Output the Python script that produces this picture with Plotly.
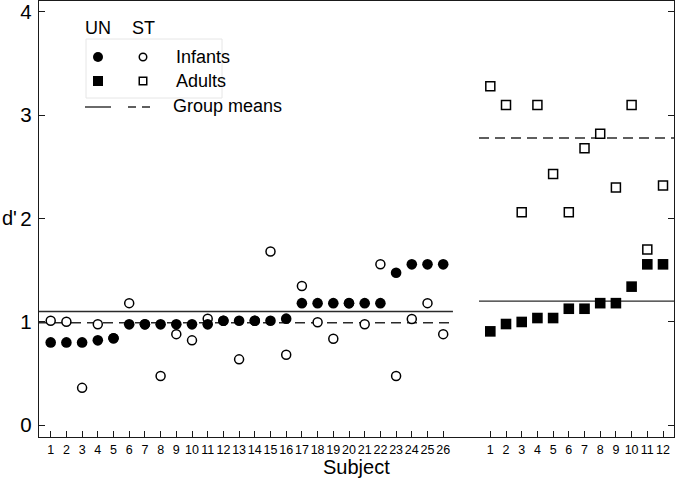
import plotly.graph_objects as go

# ---------------- data ----------------
infant_subjects = list(range(1, 27))
adult_subjects = list(range(1, 13))

infant_un = [0.80, 0.80, 0.80, 0.82, 0.84, 0.975, 0.975, 0.975, 0.975, 0.975, 0.975, 1.01, 1.01,
             1.01, 1.01, 1.03, 1.18, 1.18, 1.18, 1.18, 1.18, 1.18, 1.475, 1.556, 1.556, 1.556]
infant_st = [1.01, 1.00, 0.36, 0.975, 0.84, 1.18, 0.975, 0.475, 0.88, 0.82, 1.03, 1.01, 0.636,
             1.01, 1.68, 0.68, 1.346, 0.995, 0.836, 1.18, 0.975, 1.556, 0.475, 1.027, 1.18, 0.88]
adult_un = [0.907, 0.978, 0.998, 1.036, 1.036, 1.126, 1.126, 1.18, 1.18, 1.34, 1.556, 1.556]
adult_st = [3.28, 3.10, 2.06, 3.10, 2.43, 2.06, 2.68, 2.82, 2.30, 3.10, 1.70, 2.32]

infant_mean_un = 1.10
infant_mean_st = 0.99
adult_mean_un = 1.20
adult_mean_st = 2.78

y_ticks = [0, 1, 2, 3, 4]

# ---------------- positions on shared x axis ----------------
adult_offset = 28
infant_x = infant_subjects
adult_x = [s + adult_offset for s in adult_subjects]
x_min, x_max = 0.255, 40.7
infant_line_x = [x_min, 26.62]
adult_line_x = [28.28, x_max]

LINE = "#2a2a2a"
AXIS = "#1a1a1a"
fig = go.Figure()

# mean lines
fig.add_trace(go.Scatter(x=infant_line_x, y=[infant_mean_un] * 2, mode="lines",
                         line=dict(color=LINE, width=1.4), showlegend=False, hoverinfo="skip"))
fig.add_trace(go.Scatter(x=infant_line_x, y=[infant_mean_st] * 2, mode="lines",
                         line=dict(color=LINE, width=1.4, dash="10px,6px"), showlegend=False, hoverinfo="skip"))
fig.add_trace(go.Scatter(x=adult_line_x, y=[adult_mean_un] * 2, mode="lines",
                         line=dict(color=LINE, width=1.4), showlegend=False, hoverinfo="skip"))
fig.add_trace(go.Scatter(x=adult_line_x, y=[adult_mean_st] * 2, mode="lines",
                         line=dict(color=LINE, width=1.4, dash="10px,6px"), showlegend=False, hoverinfo="skip"))

# open markers (ST) first, filled (UN) on top
fig.add_trace(go.Scatter(x=infant_x, y=infant_st, mode="markers", name="Infants ST",
                         marker=dict(symbol="circle", size=9, color="white",
                                     line=dict(color="black", width=1.5)), showlegend=False))
fig.add_trace(go.Scatter(x=adult_x, y=adult_st, mode="markers", name="Adults ST",
                         marker=dict(symbol="square", size=9, color="white",
                                     line=dict(color="black", width=1.5)), showlegend=False))
fig.add_trace(go.Scatter(x=infant_x, y=infant_un, mode="markers", name="Infants UN",
                         marker=dict(symbol="circle", size=10.6, color="black",
                                     line=dict(color="black", width=0)), showlegend=False))
fig.add_trace(go.Scatter(x=adult_x, y=adult_un, mode="markers", name="Adults UN",
                         marker=dict(symbol="square", size=10.6, color="black",
                                     line=dict(color="black", width=0)), showlegend=False))

# ---------------- hand-made legend (overlay pixel axes) ----------------
fig.add_trace(go.Scatter(x=[98, 98], y=[57, 81], mode="markers",
                         xaxis="x2", yaxis="y2", showlegend=False, hoverinfo="skip",
                         marker=dict(symbol=["circle", "square"], size=10, color="#000000",
                                     opacity=1, line=dict(color="#000000", width=0))))
fig.add_trace(go.Scatter(x=[143, 143], y=[57, 81], mode="markers",
                         xaxis="x2", yaxis="y2", showlegend=False, hoverinfo="skip",
                         marker=dict(symbol=["circle", "square"], size=7.5, color="white",
                                     opacity=1, line=dict(color="#000000", width=1.5))))
fig.add_trace(go.Scatter(x=[85, 111], y=[107, 107], mode="lines", xaxis="x2", yaxis="y2",
                         line=dict(color=LINE, width=1.4), showlegend=False, hoverinfo="skip"))
fig.add_trace(go.Scatter(x=[128, 156], y=[107, 107], mode="lines", xaxis="x2", yaxis="y2",
                         line=dict(color=LINE, width=1.4, dash="8px,6px"), showlegend=False, hoverinfo="skip"))

FONT = "Liberation Sans, Arial, Helvetica, sans-serif"
ann = []
for txt, x, y, anchor in [("UN", 98, 28, "center"), ("ST", 143, 28, "center"),
                          ("Infants", 174, 57, "left"), ("Adults", 174, 81, "left"),
                          ("Group means", 171, 106, "left")]:
    ann.append(dict(text=txt, x=x, y=y, xref="x2", yref="y2", xanchor=anchor, yanchor="middle",
                    showarrow=False, font=dict(family=FONT, size=18, color="black")))
# axis titles (paper coords: plot area spans px 39..674 horizontally, 1..437 vertically)
ann.append(dict(text="d'", x=-39 / 635, y=(437 - 218) / 436, xref="paper", yref="paper",
                xanchor="left", yanchor="middle",
                showarrow=False, font=dict(family=FONT, size=20, color="black")))
ann.append(dict(text="Subject", x=(356 - 39) / 635, y=(437 - 467) / 436, xref="paper", yref="paper",
                xanchor="center", yanchor="middle",
                showarrow=False, font=dict(family=FONT, size=20, color="black")))

fig.update_layout(
    width=676, height=482,
    margin=dict(l=39, r=2, t=1, b=45, autoexpand=False),
    paper_bgcolor="white", plot_bgcolor="white",
    font=dict(family=FONT, color="black"),
    annotations=ann,
    shapes=[dict(type="rect", xref="x2", yref="y2", x0=86, x1=222, y0=39, y1=98,
                 line=dict(color="#e6e6e6", width=1), fillcolor="rgba(0,0,0,0)", layer="below")],
    xaxis=dict(range=[x_min, x_max], tickmode="array",
               tickvals=infant_x + adult_x,
               ticktext=[str(s) for s in infant_subjects] + [str(s) for s in adult_subjects],
               ticks="inside", ticklen=6, tickwidth=1.2, tickcolor=AXIS, tickangle=0,
               showline=True, linecolor=AXIS, linewidth=1.3, mirror=True,
               showgrid=False, zeroline=False, tickfont=dict(size=12.5), ticklabelstandoff=1),
    yaxis=dict(range=[-0.116, 4.106], tickmode="array", tickvals=y_ticks,
               ticktext=[str(v) for v in y_ticks],
               ticks="inside", ticklen=6, tickwidth=1.2, tickcolor=AXIS,
               showline=True, linecolor=AXIS, linewidth=1.3, mirror="ticks",
               showgrid=False, zeroline=False, tickfont=dict(size=20.5), ticklabelstandoff=2),
    xaxis2=dict(range=[39, 674], overlaying="x", visible=False, fixedrange=True),
    yaxis2=dict(range=[437, 1], overlaying="y", visible=False, fixedrange=True),
)

fig.write_html("out.html", config={"displayModeBar": False},
               post_script="document.body.style.margin='0';")
